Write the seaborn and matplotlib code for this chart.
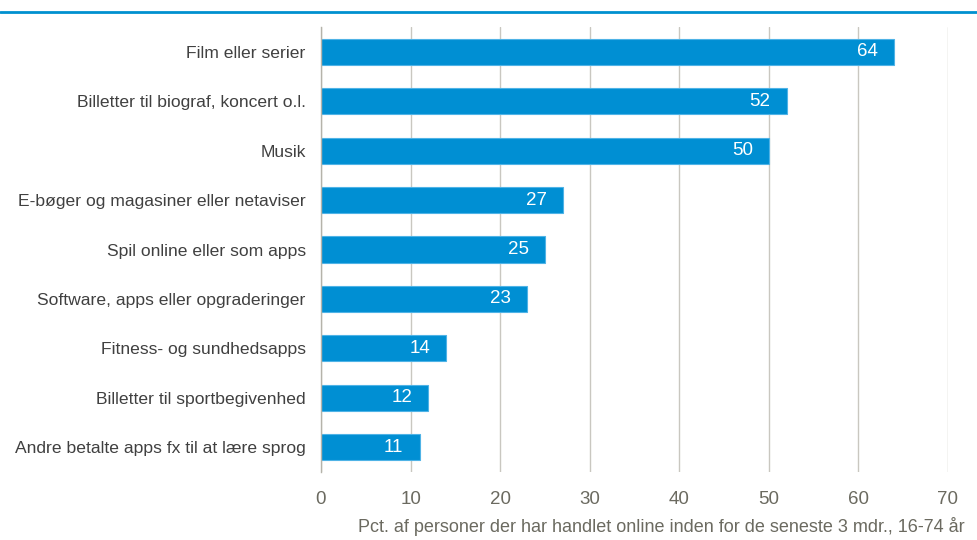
import matplotlib
matplotlib.use("Agg")
import matplotlib.pyplot as plt
import seaborn as sns
import pandas as pd

categories = [
    "Film eller serier",
    "Billetter til biograf, koncert o.l.",
    "Musik",
    "E-bøger og magasiner eller netaviser",
    "Spil online eller som apps",
    "Software, apps eller opgraderinger",
    "Fitness- og sundhedsapps",
    "Billetter til sportbegivenhed",
    "Andre betalte apps fx til at lære sprog",
]
values = [64, 52, 50, 27, 25, 23, 14, 12, 11]
x_ticks = [0, 10, 20, 30, 40, 50, 60, 70]
x_label = "Pct. af personer der har handlet online inden for de seneste 3 mdr., 16-74 år"

sns.set_theme(style="white")
plt.rcParams["font.family"] = ["Liberation Sans", "DejaVu Sans"]

df = pd.DataFrame({"kategori": categories, "pct": values})

fig = plt.figure(figsize=(9.78, 5.4), dpi=100)
ax = fig.add_axes([321 / 978, 1 - 472 / 540, (948 - 321) / 978, (472 - 27) / 540])

blue = "#008fd3"
sns.barplot(data=df, x="pct", y="kategori", orient="h", color=blue,
            width=0.53, edgecolor="#4fb3e6", linewidth=0.8, saturation=1, ax=ax)

ax.set_xlim(0, 70)
ax.set_ylim(8.5, -0.5)
ax.set_xticks(x_ticks)
ax.set_xticklabels([str(t) for t in x_ticks])
ax.grid(axis="x", color="#c9c7c0", linewidth=1)
ax.set_axisbelow(True)
for s in ["top", "right", "bottom"]:
    ax.spines[s].set_visible(False)
ax.spines["left"].set_color("#b5b3aa")
ax.spines["left"].set_linewidth(1)
ax.tick_params(axis="x", length=0, pad=14, labelsize=13.5, labelcolor="#6b6a60")
ax.tick_params(axis="y", length=0, pad=11, labelsize=12.6, labelcolor="#404040")
ax.set_xlabel("")
ax.set_ylabel("")

for i, v in enumerate(values):
    ax.text(v - 1.8, i, str(v), ha="right", va="center", color="white", fontsize=13.5)

fig.text(965 / 978, 1 - 527 / 540, x_label, ha="right", va="center",
         fontsize=13, color="#6b6a60")

# header rule across the top
fig.add_artist(plt.Line2D([0, 1], [1 - 12 / 540, 1 - 12 / 540],
                          transform=fig.transFigure, color="#0090cf", linewidth=2))

fig.savefig("out.png", dpi=100)
